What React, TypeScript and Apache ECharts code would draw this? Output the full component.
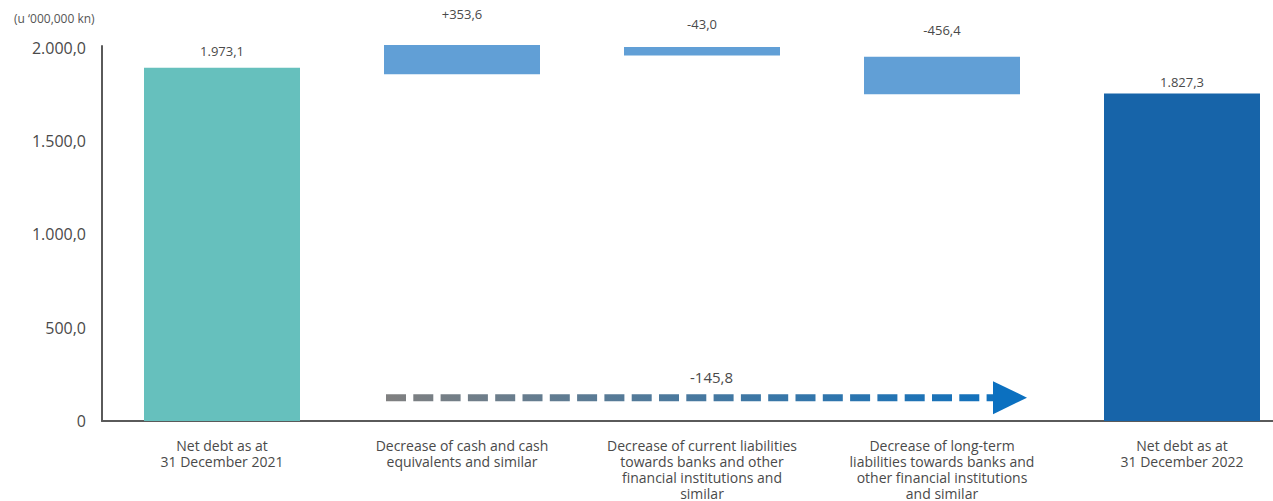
import React, { useEffect, useRef } from "react";
import * as echarts from "echarts";

// ---- data ----
const categories = [
  "Net debt as at\n31 December 2021",
  "Decrease of cash and cash\nequivalents and similar",
  "Decrease of current liabilities\ntowards banks and other\nfinancial institutions and\nsimilar",
  "Decrease of long-term\nliabilities towards banks and\nother financial institutions\nand similar",
  "Net debt as at\n31 December 2022",
];
// visual extents of the floating (waterfall) bars, as drawn on the value axis
const barBottom = [0, 1858, 1959, 1752, 0];
const barTop = [1894, 2016, 2005, 1952, 1755];
const valueLabels = ["1.973,1", "+353,6", "-43,0", "-456,4", "1.827,3"];
const netChangeLabel = "-145,8";
const netChangeLevel = 125; // value-axis level of the net change arrow
const axisName = "(u \u2018000,000 kn)";
const yInterval = 500;

const FONT = "'Open Sans', 'Noto Sans', sans-serif";
const barColors = ["#66C0BD", "#619FD6", "#619FD6", "#619FD6", "#1764A9"];
const labelGaps = [10, 24, 16, 20, 5];
const BAR_W = 156;

function fmt(v: number): string {
  if (v === 0) return "0";
  const s = Math.round(v).toString().replace(/\B(?=(\d{3})+(?!\d))/g, ".");
  return s + ",0";
}

export default function App() {
  const ref = useRef<HTMLDivElement>(null);
  useEffect(() => {
    if (!ref.current) return;
    const chart = echarts.init(ref.current, null, { renderer: "svg" });
    const base = barBottom;
    const heights = barTop.map((t, i) => t - barBottom[i]);
    chart.setOption({
      animation: false,
      backgroundColor: "#ffffff",
      textStyle: { fontFamily: FONT },
      title: {
        text: axisName,
        left: 14,
        top: 11,
        padding: 0,
        textStyle: {
          fontFamily: FONT,
          fontSize: 12,
          fontWeight: "normal",
          color: "#555555",
          lineHeight: 14,
        },
      },
      grid: { left: 102, right: 0, top: 46, bottom: 78, containLabel: false },
      xAxis: {
        type: "category",
        data: categories,
        axisLine: { show: true, lineStyle: { color: "#5a5a5a", width: 2 } },
        axisTick: { show: false },
        splitLine: { show: false },
        axisLabel: {
          interval: 0,
          margin: 16,
          fontFamily: FONT,
          fontSize: 14,
          lineHeight: 16,
          color: "#4a4a4a",
          align: "center",
        },
      },
      yAxis: {
        type: "value",
        min: 0,
        max: 2010,
        interval: yInterval,
        axisLine: { show: true, lineStyle: { color: "#5a5a5a", width: 2 } },
        axisTick: { show: false },
        splitLine: { show: false },
        axisLabel: {
          margin: 16,
          fontFamily: FONT,
          fontSize: 16,
          color: "#4a4a4a",
          formatter: (v: number) => (v % yInterval === 0 ? fmt(v) : ""),
        },
      },
      series: [
        {
          type: "bar",
          stack: "wf",
          data: base,
          barWidth: BAR_W,
          clip: false,
          itemStyle: { color: "transparent" },
          silent: true,
        },
        {
          type: "bar",
          stack: "wf",
          barWidth: BAR_W,
          clip: false,
          data: heights.map((h, i) => ({
            value: h,
            itemStyle: { color: barColors[i] },
            label: {
              show: true,
              position: "top",
              distance: labelGaps[i],
              formatter: () => valueLabels[i],
              fontFamily: FONT,
              fontSize: 13,
              color: "#4a4a4a",
            },
          })),
        },
      ],
    });

    // net change arrow, placed with the chart's own scales
    const c1 = chart.convertToPixel({ xAxisIndex: 0 }, categories[1]) as number;
    const c3 = chart.convertToPixel({ xAxisIndex: 0 }, categories[3]) as number;
    const ay = chart.convertToPixel({ yAxisIndex: 0 }, netChangeLevel) as number;
    const x0 = c1 - BAR_W / 2 + 2;
    const tip = c3 + BAR_W / 2 + 7;
    const grad = new echarts.graphic.LinearGradient(
      x0,
      0,
      tip,
      0,
      [
        { offset: 0, color: "#808080" },
        { offset: 1, color: "#0B70C0" },
      ],
      true
    );
    chart.setOption({
      graphic: [
        {
          type: "line",
          shape: { x1: x0, y1: ay, x2: tip - 27, y2: ay },
          style: { stroke: grad, lineWidth: 7, lineDash: [20, 7.3], lineCap: "butt" },
          z: 10,
        },
        {
          type: "polygon",
          shape: {
            points: [
              [tip - 34, ay - 16.5],
              [tip, ay],
              [tip - 34, ay + 16.5],
            ],
          },
          style: { fill: "#0B70C0" },
          z: 11,
        },
        {
          type: "text",
          x: (x0 + tip) / 2 + 5,
          y: ay - 20.5,
          style: {
            text: netChangeLabel,
            fontFamily: FONT,
            fontSize: 15,
            fill: "#4a4a4a",
            textAlign: "center",
            textVerticalAlign: "middle",
          },
          z: 12,
        },
      ],
    });
    return () => chart.dispose();
  }, []);
  return (
    <div
      style={{
        position: "absolute",
        left: 0,
        top: 0,
        width: 1273,
        height: 501,
        overflow: "hidden",
      }}
    >
      <div ref={ref} style={{ width: 1302, height: 501 }} />
    </div>
  );
}
